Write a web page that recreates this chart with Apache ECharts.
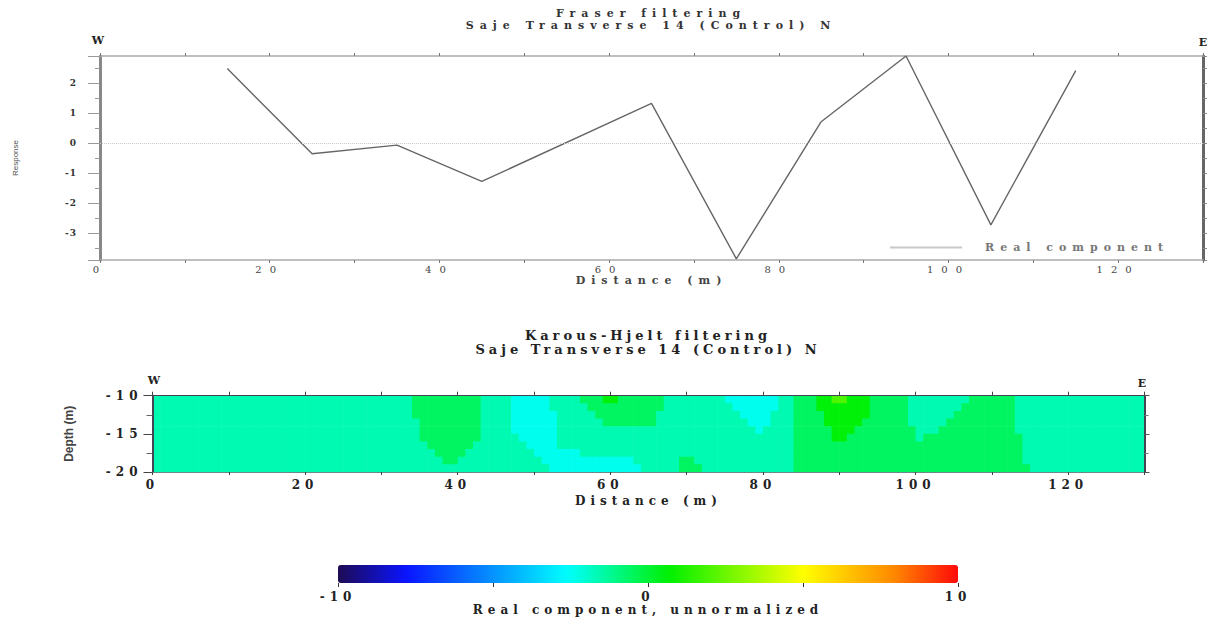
<!DOCTYPE html>
<html>
<head>
<meta charset="utf-8">
<script src="https://cdn.jsdelivr.net/npm/echarts@6/dist/echarts.min.js"></script>
<style>
html,body{margin:0;padding:0;background:#fff;}
#chart{width:1212px;height:624px;}
#chart text[style*="Serif"][style*="9px"]{letter-spacing:1px;}
#chart text[style*="Serif"][style*="10px"]{letter-spacing:8px;}
#chart text[style*="Serif"][style*="11px"]{letter-spacing:6px;}
#chart text[style*="Serif"][style*="12px"]{letter-spacing:5px;}
#chart text[style*="Serif"][style*="13px"]{letter-spacing:4px;}
</style>
</head>
<body>
<div id="chart"></div>
<script>
// ---------- Fraser filtering (top profile) ----------
const distanceTop = [15, 25, 35, 45, 65, 75, 85, 95, 105, 115];
const realComponent = [2.48, -0.36, -0.07, -1.28, 1.32, -3.86, 0.71, 2.9, -2.73, 2.41];

// ---------- Karous-Hjelt section (bottom) ----------
// one character per 1 m column (0..130 m), one row per 1 m depth band
const depthRows = [-10.5, -11.5, -12.5, -13.5, -14.5, -15.5, -16.5, -17.5, -18.5, -19.5];
const cellWidth = 1;
const cellHeight = 1;
const levelValue = { m: -1.6, c: -2.4, g: -0.55, b: 0.6, y: 2.0 };
const khRows = [
  'mmmmmmmmmm mmmmmmmmmm mmmmmmmmmm mmmmgggggg gggmmmmccc ccmmmmgggb bggggggmmm mmmmmccccc ccmmgggbby ybbbgggggm mmmmmmmggg gggmmmmmmm mmmmmmmmmm',
  'mmmmmmmmmm mmmmmmmmmm mmmmmmmmmm mmmmgggggg gggmmmmccc ccmmmmmggg gggggggmmm mmmmmmcccc ccmmgggbbb bbbbgggggm mmmmmmgggg gggmmmmmmm mmmmmmmmmm',
  'mmmmmmmmmm mmmmmmmmmm mmmmmmmmmm mmmmgggggg gggmmmmccc cccmmmmmgg ggggggmmmm mmmmmmmccc cmmmggggbb bbbbgggggm mmmmmggggg gggmmmmmmm mmmmmmmmmm',
  'mmmmmmmmmm mmmmmmmmmm mmmmmmmmmm mmmmmggggg gggmmmmccc cccmmmmmmg ggggggmmmm mmmmmmmmcc cmmmggggbb bbbggggggm mmmmgggggg gggmmmmmmm mmmmmmmmmm',
  'mmmmmmmmmm mmmmmmmmmm mmmmmmmmmm mmmmmggggg gggmmmmccc cccmmmmmmm mmmmmmmmmm mmmmmmmmmc mmmmgggggb bbgggggggg mmmggggggg gggmmmmmmm mmmmmmmmmm',
  'mmmmmmmmmm mmmmmmmmmm mmmmmmmmmm mmmmmggggg gggmmmmmcc cccmmmmmmm mmmmmmmmmm mmmmmmmmmm mmmmgggggb bggggggggg mggggggggg ggggmmmmmm mmmmmmmmmm',
  'mmmmmmmmmm mmmmmmmmmm mmmmmmmmmm mmmmmmgggg ggmmmmmmmc cccmmmmmmm mmmmmmmmmm mmmmmmmmmm mmmmgggggg gggggggggg gggggggggg ggggmmmmmm mmmmmmmmmm',
  'mmmmmmmmmm mmmmmmmmmm mmmmmmmmmm mmmmmmmggg gmmmmmmmmm ccccccmmmm mmmmmmmmmm mmmmmmmmmm mmmmgggggg gggggggggg gggggggggg ggggmmmmmm mmmmmmmmmm',
  'mmmmmmmmmm mmmmmmmmmm mmmmmmmmmm mmmmmmmmgg mmmmmmmmmm mccccccccc cccmmmmmmg gmmmmmmmmm mmmmgggggg gggggggggg gggggggggg ggggmmmmmm mmmmmmmmmm',
  'mmmmmmmmmm mmmmmmmmmm mmmmmmmmmm mmmmmmmmmm mmmmmmmmmm mmcccccccc ccccmmmmmg ggmmmmmmmm mmmmgggggg gggggggggg gggggggggg gggggmmmmm mmmmmmmmmm'
];

// ---------- colour scale ----------
const scaleMin = -10;
const scaleMax = 10;
const colorStops = [
  [-10, [30, 11, 84]],
  [-7.8, [10, 20, 255]],
  [-2.6, [0, 255, 255]],
  [0.7, [0, 240, 0]],
  [5.0, [255, 255, 0]],
  [7.9, [255, 138, 0]],
  [10, [255, 10, 10]]
];

const SERIF = 'DejaVu Serif';

function colorAt(v) {
  for (let i = 1; i < colorStops.length; i++) {
    const a = colorStops[i - 1], b = colorStops[i];
    if (v <= b[0]) {
      const t = (v - a[0]) / (b[0] - a[0]);
      const c = a[1].map((ch, k) => Math.round(ch + (b[1][k] - ch) * t));
      return 'rgb(' + c.join(',') + ')';
    }
  }
  const last = colorStops[colorStops.length - 1][1];
  return 'rgb(' + last.join(',') + ')';
}
const colorList = [];
for (let k = 0; k <= 80; k++) colorList.push(colorAt(scaleMin + (scaleMax - scaleMin) * k / 80));

const cells = [];
khRows.forEach((row, r) => {
  const codes = row.replace(/ /g, '');
  for (let i = 0; i < codes.length; i++) {
    cells.push([i * cellWidth + cellWidth / 2, depthRows[r], levelValue[codes[i]]]);
  }
});

function label(text, x, y, size, color) {
  return {
    type: 'text', x: x, y: y, silent: true,
    style: {
      text: text, fontSize: size, fontFamily: SERIF, fontWeight: 'bold',
      fill: color || '#333', align: 'center', verticalAlign: 'middle',
      textAlign: 'center', textVerticalAlign: 'middle'
    }
  };
}

const chart = echarts.init(document.getElementById('chart'), null, { renderer: 'svg', width: 1212, height: 624 });

const option = {
  animation: false,
  backgroundColor: '#ffffff',
  grid: [
    { left: 100, top: 56, width: 1103, height: 204 },
    { left: 152.5, top: 395.7, width: 992, height: 76.3 },
    { left: 338, top: 565, width: 620, height: 18 }
  ],
  legend: {
    data: [{ name: 'Real component', icon: 'rect', itemStyle: { color: '#c8c8c8' } }],
    left: 890, top: 242, padding: 0, itemWidth: 72, itemHeight: 2,
    selectedMode: false,
    textStyle: { fontFamily: SERIF, fontSize: 11, fontWeight: 'bold', color: '#777', padding: [0, 0, 0, 18] }
  },
  xAxis: [
    {
      gridIndex: 0, type: 'value', min: 0, max: 130, interval: 10, position: 'bottom',
      axisLine: { onZero: false, lineStyle: { color: '#aaaaaa', width: 1.5 } },
      axisTick: { length: 3, lineStyle: { color: '#777' } },
      axisLabel: { margin: 4, fontSize: 10, fontFamily: SERIF, color: '#444',
        formatter: v => (v % 20 === 0 ? String(v) : '') },
      splitLine: { show: false },
      name: 'Distance (m)', nameLocation: 'middle', nameGap: 14,
      nameTextStyle: { fontSize: 11, fontFamily: SERIF, fontWeight: 'bold', color: '#444' }
    },
    {
      gridIndex: 0, type: 'value', min: 0, max: 130, interval: 10, position: 'top',
      axisLine: { onZero: false, lineStyle: { color: '#aaaaaa', width: 1.5 } },
      axisTick: { length: 3, lineStyle: { color: '#777' } },
      axisLabel: { show: false }, splitLine: { show: false }
    },
    {
      gridIndex: 1, type: 'value', min: 0, max: 130, interval: 10, position: 'bottom', z: 5,
      axisLine: { onZero: false, lineStyle: { color: '#6a8a8a', width: 1 } },
      axisTick: { length: 3, lineStyle: { color: '#444' } },
      axisLabel: { margin: 7, fontSize: 12, fontFamily: SERIF, fontWeight: 'bold', color: '#222',
        formatter: v => (v % 20 === 0 ? String(v) : '') },
      splitLine: { show: false },
      name: 'Distance (m)', nameLocation: 'middle', nameGap: 23,
      nameTextStyle: { fontSize: 12, fontFamily: SERIF, fontWeight: 'bold', color: '#222' }
    },
    {
      gridIndex: 1, type: 'value', min: 0, max: 130, interval: 10, position: 'top', z: 5,
      axisLine: { onZero: false, lineStyle: { color: '#445', width: 1.2 } },
      axisTick: { length: 4, lineStyle: { color: '#444' } },
      axisLabel: { show: false }, splitLine: { show: false }
    },
    {
      gridIndex: 2, type: 'value', min: scaleMin, max: scaleMax, interval: 5, position: 'bottom',
      axisLine: { show: false, onZero: false },
      axisTick: { length: 4, lineStyle: { color: '#333' } },
      axisLabel: { margin: 8, fontSize: 12, fontFamily: SERIF, fontWeight: 'bold', color: '#222',
        formatter: v => (v % 10 === 0 ? String(v) : '') },
      splitLine: { show: false },
      name: 'Real component, unnormalized', nameLocation: 'middle', nameGap: 21,
      nameTextStyle: { fontSize: 12, fontFamily: SERIF, fontWeight: 'bold', color: '#222' }
    }
  ],
  yAxis: [
    {
      gridIndex: 0, type: 'value', min: -3.9, max: 2.9, minInterval: 1, maxInterval: 1, position: 'left',
      axisLine: { show: true, onZero: false, lineStyle: { color: '#888', width: 3 } },
      axisTick: { show: true, length: 12, lineStyle: { color: '#999' } },
      minorTick: { show: true, splitNumber: 2, length: 5, lineStyle: { color: '#999' } },
      axisLabel: { showMinLabel: false, showMaxLabel: false, margin: 23, fontSize: 9,
        fontFamily: SERIF, fontWeight: 'bold', color: '#333' },
      splitLine: { show: false },
      name: 'Response', nameLocation: 'middle', nameGap: 81,
      nameTextStyle: { fontFamily: 'Liberation Sans', fontSize: 8, color: '#555' }
    },
    {
      gridIndex: 0, type: 'value', min: -3.9, max: 2.9, minInterval: 1, maxInterval: 1, position: 'right',
      axisLine: { show: true, onZero: false, lineStyle: { color: '#666', width: 3 } },
      axisTick: { show: true, length: 4, lineStyle: { color: '#888' } },
      minorTick: { show: true, splitNumber: 2, length: 4, lineStyle: { color: '#888' } },
      axisLabel: { show: false }, splitLine: { show: false }
    },
    {
      gridIndex: 1, type: 'value', min: -20, max: -10, interval: 5, position: 'left', z: 5,
      axisLine: { show: true, onZero: false, lineStyle: { color: '#445', width: 2 } },
      axisTick: { show: true, length: 9, lineStyle: { color: '#444' } },
      minorTick: { show: true, splitNumber: 2, length: 6, lineStyle: { color: '#666' } },
      axisLabel: { margin: 10, fontSize: 12, fontFamily: SERIF, fontWeight: 'bold', color: '#222' },
      splitLine: { show: false },
      name: 'Depth (m)', nameLocation: 'middle', nameGap: 78,
      nameTextStyle: { fontFamily: 'Liberation Sans', fontSize: 12, fontWeight: 'bold', color: '#444' }
    },
    {
      gridIndex: 1, type: 'value', min: -20, max: -10, interval: 5, position: 'right', z: 5,
      axisLine: { show: true, onZero: false, lineStyle: { color: '#445', width: 2 } },
      axisTick: { show: true, length: 5, lineStyle: { color: '#555' } },
      minorTick: { show: true, splitNumber: 2, length: 4, lineStyle: { color: '#777' } },
      axisLabel: { show: false }, splitLine: { show: false }
    },
    { gridIndex: 2, type: 'value', min: 0, max: 1, show: false }
  ],
  visualMap: {
    type: 'continuous', seriesIndex: 1, dimension: 2,
    min: scaleMin, max: scaleMax, orient: 'horizontal',
    left: 338, top: 565, itemWidth: 18, itemHeight: 620,
    calculable: false, hoverLink: false, padding: 0, text: null,
    inRange: { color: colorList }
  },
  series: [
    {
      type: 'line', name: 'Real component', xAxisIndex: 0, yAxisIndex: 0,
      data: distanceTop.map((d, i) => [d, realComponent[i]]),
      symbol: 'none', lineStyle: { color: '#666', width: 1.4 }, itemStyle: { color: '#666' },
      markLine: {
        silent: true, symbol: ['none', 'none'], label: { show: false },
        lineStyle: { type: 'dotted', color: '#c8c8c8', width: 1 },
        data: [{ yAxis: 0 }]
      }
    },
    {
      type: 'custom', name: 'Karous-Hjelt', xAxisIndex: 2, yAxisIndex: 2, clip: true, z: 1,
      data: cells,
      encode: { x: 0, y: 1 },
      renderItem: function (params, api) {
        const x = api.value(0), d = api.value(1);
        const p0 = api.coord([x - cellWidth / 2, d + cellHeight / 2]);
        const p1 = api.coord([x + cellWidth / 2, d - cellHeight / 2]);
        return {
          type: 'rect',
          shape: { x: p0[0], y: p0[1], width: p1[0] - p0[0] + 0.6, height: p1[1] - p0[1] + 0.6 },
          style: { fill: api.visual('color') }
        };
      }
    }
  ],
  graphic: [
    label('Fraser filtering', 651, 13, 11, '#333'),
    label('Saje Transverse 14 (Control) N', 651, 25, 11, '#333'),
    label('W', 101, 40, 11, '#222'),
    label('E', 1206, 42, 11, '#222'),
    label('Karous-Hjelt filtering', 648, 335, 13, '#222'),
    label('Saje Transverse 14 (Control) N', 648, 349, 13, '#222'),
    label('W', 157, 380, 11, '#222'),
    label('E', 1145, 383, 11, '#222')
  ]
};
chart.setOption(option);
</script>
</body>
</html>
